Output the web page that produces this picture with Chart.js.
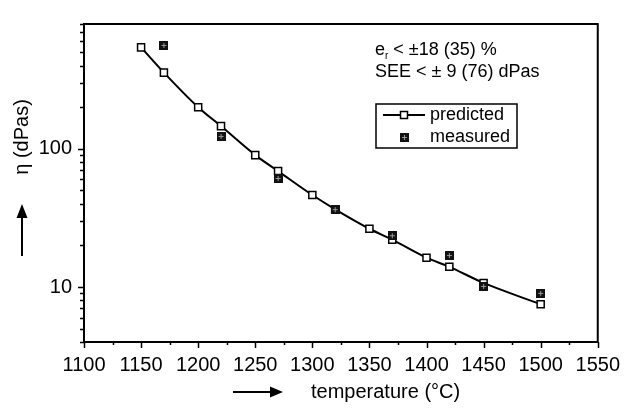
<!DOCTYPE html>
<html>
<head>
<meta charset="utf-8">
<script src="https://cdn.jsdelivr.net/npm/chart.js@4"></script>
<style>
  html, body { margin: 0; padding: 0; background: #fff; }
  #wrap { width: 631px; height: 408px; }
</style>
</head>
<body>
<div id="wrap"><canvas id="viscChart" width="631" height="408"></canvas></div>
<script>
// data
const temps = [1150, 1170, 1200, 1220, 1250, 1270, 1300, 1320, 1350, 1370, 1400, 1420, 1450, 1500];
const predicted = [542, 356, 200, 146, 90, 69, 46.3, 36.5, 26.4, 22, 16.3, 14.0, 10.7, 7.5];
const measTemps = [1170, 1220, 1270, 1320, 1370, 1420, 1450, 1500];
const measured = [560, 123, 61, 36.3, 23.5, 16.9, 10.1, 9.0];

const xTicks = [];
for (let t = 1100; t <= 1550; t += 25) xTicks.push(t);
const yTicks = [4, 5, 6, 7, 8, 9, 10, 20, 30, 40, 50, 60, 70, 80, 90, 100, 200, 300, 400, 500, 600, 700, 800];
const yLabels = [10, 100];

const FONT = "'Liberation Sans', Arial, sans-serif";

// "measured" marker: dark square, grey cross inside
const measMark = document.createElement("canvas");
measMark.width = 9; measMark.height = 9;
(function () {
  const c = measMark.getContext("2d");
  c.fillStyle = "#111";
  c.fillRect(0, 0, 9, 9);
  c.fillStyle = "#9a9a9a";
  c.fillRect(2, 4, 5, 1);
  c.fillRect(4, 2, 1, 5);
})();

// ticks, frame, titles, annotation, legend
const decor = {
  id: "decor",
  afterDraw(chart) {
    const ctx = chart.ctx;
    const a = chart.chartArea;
    const xs = chart.scales.x, ys = chart.scales.y;
    ctx.save();
    ctx.strokeStyle = "#000";
    ctx.lineWidth = 2;
    ctx.strokeRect(a.left, a.top, a.right - a.left, a.bottom - a.top);

    ctx.lineWidth = 1.5;
    ctx.beginPath();
    xs.ticks.forEach(t => {
      const px = Math.round(xs.getPixelForValue(t.value)) + 0.5;
      const len = t.value % 50 === 0 ? 6 : 3;
      ctx.moveTo(px, a.bottom);
      ctx.lineTo(px, a.bottom + len);
    });
    ys.ticks.forEach(t => {
      const py = Math.round(ys.getPixelForValue(t.value)) + 0.5;
      const len = yLabels.includes(t.value) ? 6 : 4;
      ctx.moveTo(a.left, py);
      ctx.lineTo(a.left - len, py);
    });
    ctx.stroke();

    // axis titles with arrows
    ctx.fillStyle = "#000";
    ctx.font = "20px " + FONT;
    ctx.textBaseline = "middle";
    ctx.textAlign = "left";
    ctx.fillText("temperature (°C)", 311, 392);
    ctx.lineWidth = 2;
    ctx.beginPath();
    ctx.moveTo(233, 392); ctx.lineTo(272, 392);
    ctx.stroke();
    ctx.beginPath();
    ctx.moveTo(283, 392); ctx.lineTo(270, 386.5); ctx.lineTo(270, 397.5); ctx.closePath();
    ctx.fill();

    ctx.save();
    ctx.translate(22, 137);
    ctx.rotate(-Math.PI / 2);
    ctx.textAlign = "center";
    ctx.fillText("η (dPas)", 0, 0);
    ctx.restore();
    ctx.beginPath();
    ctx.moveTo(22, 256); ctx.lineTo(22, 216);
    ctx.stroke();
    ctx.beginPath();
    ctx.moveTo(22, 204); ctx.lineTo(16.5, 218); ctx.lineTo(27.5, 218); ctx.closePath();
    ctx.fill();

    // annotation
    ctx.font = "18px " + FONT;
    ctx.textAlign = "left";
    ctx.fillText("e", 375, 50);
    const ew = ctx.measureText("e").width;
    ctx.font = "10px " + FONT;
    ctx.fillText("r", 375 + ew, 56);
    const rw = ctx.measureText("r").width;
    ctx.font = "18px " + FONT;
    ctx.fillText(" < ±18 (35) %", 375 + ew + rw, 50);
    ctx.fillText("SEE < ± 9 (76) dPas", 375, 72);

    // legend box
    ctx.lineWidth = 1.5;
    ctx.strokeRect(376, 104, 141, 44);
    ctx.lineWidth = 2;
    ctx.beginPath();
    ctx.moveTo(383, 115); ctx.lineTo(425, 115);
    ctx.stroke();
    ctx.fillStyle = "#fff";
    ctx.lineWidth = 1.5;
    ctx.fillRect(400.5, 111.5, 7, 7);
    ctx.strokeRect(400.5, 111.5, 7, 7);
    ctx.drawImage(measMark, 400, 133);
    ctx.fillStyle = "#000";
    ctx.fillText("predicted", 430, 115);
    ctx.fillText("measured", 430, 137);
    ctx.restore();
  }
};

const ctx = document.getElementById("viscChart").getContext("2d");
const chart = new Chart(ctx, {
  type: "line",
  data: {
    datasets: [
      {
        label: "predicted",
        data: temps.map((t, i) => ({ x: t, y: predicted[i] })),
        borderColor: "#000",
        borderWidth: 2,
        cubicInterpolationMode: "monotone",
        pointStyle: "rect",
        pointRadius: 5,
        pointBorderWidth: 1.5,
        pointBackgroundColor: "#fff",
        pointBorderColor: "#000",
        order: 2
      },
      {
        label: "measured",
        data: measTemps.map((t, i) => ({ x: t, y: measured[i] })),
        showLine: false,
        pointStyle: measMark,
        order: 1
      }
    ]
  },
  options: {
    responsive: false,
    animation: false,
    layout: { padding: { left: 0, right: 15, top: 10, bottom: 0 } },
    plugins: {
      legend: { display: false },
      tooltip: { enabled: false }
    },
    scales: {
      x: {
        type: "linear",
        min: 1100,
        max: 1550,
        afterBuildTicks: s => { s.ticks = xTicks.map(v => ({ value: v })); },
        afterFit: s => { s.height = 66; },
        grid: { display: false, drawTicks: false },
        border: { display: false },
        ticks: {
          autoSkip: false,
          maxRotation: 0,
          padding: 11,
          color: "#000",
          font: { family: FONT, size: 20 },
          callback: v => (v % 50 === 0 ? String(v) : "")
        }
      },
      y: {
        type: "logarithmic",
        min: 4,
        max: 800,
        afterBuildTicks: s => { s.ticks = yTicks.map(v => ({ value: v })); },
        afterFit: s => { s.width = 84; },
        grid: { display: false, drawTicks: false },
        border: { display: false },
        ticks: {
          autoSkip: false,
          padding: 12,
          color: "#000",
          font: { family: FONT, size: 20 },
          callback: v => (yLabels.includes(v) ? String(v) : "")
        }
      }
    }
  },
  plugins: [decor]
});
</script>
</body>
</html>
